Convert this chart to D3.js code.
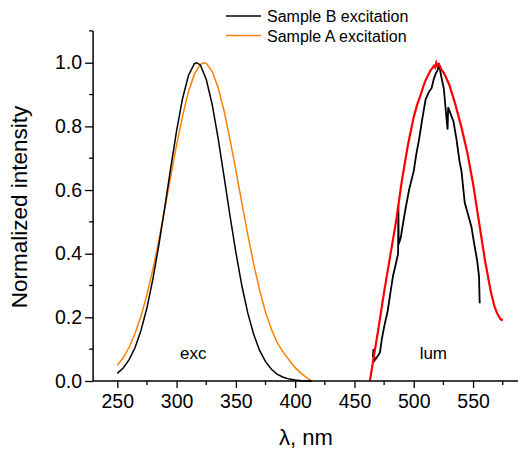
<!DOCTYPE html>
<html>
<head>
<meta charset="utf-8">
<script src="https://cdn.jsdelivr.net/npm/d3@7"></script>
<style>
  body { margin: 0; background: #fff; }
  svg text { font-family: "Liberation Sans", Arial, sans-serif; fill: #000; }
</style>
</head>
<body>
<div id="chart"></div>
<script>
// excitation spectra, wavelength (nm) / normalized intensity
var excB_nm = [250,255,260,265,270,275,280,285,290,295,300,305,310,315,317,320,325,330,335,340,345,350,355,360,365,370,375,380,385,390,395,400,405,410,414];
var excB_val = [0.024,0.041,0.067,0.105,0.159,0.230,0.320,0.426,0.545,0.668,0.786,0.887,0.960,0.997,1.0,0.993,0.948,0.869,0.763,0.643,0.520,0.404,0.300,0.214,0.147,0.096,0.061,0.037,0.021,0.012,0.006,0.003,0.001,0.0,0.0];

var excA_nm = [250,255,260,265,270,275,280,285,290,295,300,305,310,315,320,323,325,330,335,340,345,350,355,360,365,370,375,380,385,390,395,400,405,410,414];
var excA_val = [0.049,0.073,0.106,0.149,0.204,0.271,0.351,0.441,0.540,0.641,0.741,0.832,0.909,0.964,0.995,1.0,0.998,0.973,0.922,0.849,0.760,0.662,0.560,0.461,0.368,0.286,0.216,0.162,0.120,0.090,0.065,0.042,0.024,0.010,0.0];

// luminescence spectra
var lumA_nm = [463,466,470,475,480,485,490,495,500,503,505,508,510,512,514,515,517,518,519,520,521,522,523,525,527,530,535,540,545,550,555,560,565,568,570,573,575];
var lumA_val = [0.0,0.07,0.16,0.28,0.39,0.50,0.63,0.74,0.83,0.87,0.89,0.925,0.945,0.96,0.975,0.98,0.99,0.985,1.0,0.99,0.995,0.99,0.98,0.97,0.955,0.93,0.87,0.80,0.72,0.62,0.50,0.38,0.28,0.235,0.215,0.195,0.19];

var lumB_nm = [465.5,466,467,469,471.5,473,475,478,480,482.5,485,486.8,487,487.3,489,490.5,493,496,500,502,504.5,507,510,513,515,517,519,520,521.3,523,525.3,527,528.5,529,531,533.5,536,538.6,540.2,543,546,548.6,551,553.4,555,555.6];
var lumB_val = [0.075,0.10,0.065,0.075,0.09,0.13,0.17,0.22,0.27,0.33,0.37,0.40,0.55,0.43,0.45,0.485,0.54,0.60,0.66,0.71,0.76,0.82,0.885,0.91,0.92,0.95,0.97,0.975,0.998,0.96,0.92,0.85,0.79,0.86,0.84,0.815,0.76,0.69,0.66,0.56,0.52,0.485,0.43,0.38,0.33,0.244];

var xMajor = [250,300,350,400,450,500,550];
var xMinor = [275,325,375,425,475,525,575];
var yMajor = [0,0.2,0.4,0.6,0.8,1.0];
var yMinor = [0.1,0.3,0.5,0.7,0.9,1.1];

var legendItems = [
  {label: "Sample B excitation", color: "#000000"},
  {label: "Sample A excitation", color: "#ff8000"}
];

var W = 518, H = 450;
var svg = d3.select("#chart").append("svg")
    .attr("width", W)
    .attr("height", H);

var x = d3.scaleLinear().domain([229.6, 590]).range([93.1, 520.5]);
var y = d3.scaleLinear().domain([0, 1.1]).range([381, 30.9]);

function zip(a, b) { return a.map(function(d, i){ return [d, b[i]]; }); }

var line = d3.line()
    .x(function(d){ return x(d[0]); })
    .y(function(d){ return y(d[1]); });

// series
svg.append("path").datum(zip(excA_nm, excA_val))
    .attr("d", line).attr("fill", "none").attr("stroke", "#ff8000").attr("stroke-width", 1.5);
svg.append("path").datum(zip(excB_nm, excB_val))
    .attr("d", line).attr("fill", "none").attr("stroke", "#000").attr("stroke-width", 1.5);
svg.append("path").datum(zip(lumB_nm, lumB_val))
    .attr("d", line).attr("fill", "none").attr("stroke", "#000").attr("stroke-width", 1.8);
svg.append("path").datum(zip(lumA_nm, lumA_val))
    .attr("d", line).attr("fill", "none").attr("stroke", "#ff0000").attr("stroke-width", 2.2);

// axes
var xAxis = svg.append("g").attr("transform", "translate(0," + y(0) + ")")
    .call(d3.axisBottom(x).tickValues(xMajor).tickSize(7).tickPadding(6).tickFormat(d3.format("d")));
xAxis.append("g").selectAll("line").data(xMinor).enter().append("line")
    .attr("x1", function(d){ return x(d); }).attr("x2", function(d){ return x(d); })
    .attr("y1", 0).attr("y2", 4).attr("stroke", "#000").attr("stroke-width", 1.3);

var yAxis = svg.append("g").attr("transform", "translate(" + x(229.6) + ",0)")
    .call(d3.axisLeft(y).tickValues(yMajor).tickSize(8).tickPadding(3).tickFormat(d3.format(".1f")));
yAxis.append("g").selectAll("line").data(yMinor).enter().append("line")
    .attr("y1", function(d){ return y(d); }).attr("y2", function(d){ return y(d); })
    .attr("x1", 0).attr("x2", -4).attr("stroke", "#000").attr("stroke-width", 1.3);

[xAxis, yAxis].forEach(function(g){
  g.select(".domain").attr("stroke", "#000").attr("stroke-width", 1.5);
  g.selectAll(".tick line").attr("stroke", "#000").attr("stroke-width", 1.3);
  g.selectAll(".tick text").attr("font-size", 19.5).attr("font-family", "Liberation Sans, Arial, sans-serif");
});
xAxis.select(".domain").attr("d", "M" + x(229.6) + ",0H" + W);
yAxis.select(".domain").attr("d", "M0," + y(1.1) + "V" + y(0));

// axis titles
svg.append("text").attr("x", 306).attr("y", 445).attr("text-anchor", "middle")
    .attr("font-size", 22).text("λ, nm");
svg.append("text").attr("transform", "translate(27,207) rotate(-90)")
    .attr("text-anchor", "middle").attr("font-size", 22.5).text("Normalized intensity");

// annotations
svg.append("text").attr("x", x(314)).attr("y", 359).attr("text-anchor", "middle")
    .attr("font-size", 17).text("exc");
svg.append("text").attr("x", x(516.5)).attr("y", 359).attr("text-anchor", "middle")
    .attr("font-size", 17).text("lum");

// legend
var leg = svg.append("g").attr("transform", "translate(226,16)");
var li = leg.selectAll("g").data(legendItems).enter().append("g")
    .attr("transform", function(d, i){ return "translate(0," + (i * 19.6) + ")"; });
li.append("line").attr("x1", 0).attr("x2", 35).attr("y1", 0).attr("y2", 0)
    .attr("stroke", function(d){ return d.color; }).attr("stroke-width", 1.5);
li.append("text").attr("x", 41).attr("y", 6).attr("font-size", 16)
    .text(function(d){ return d.label; });
</script>
</body>
</html>
